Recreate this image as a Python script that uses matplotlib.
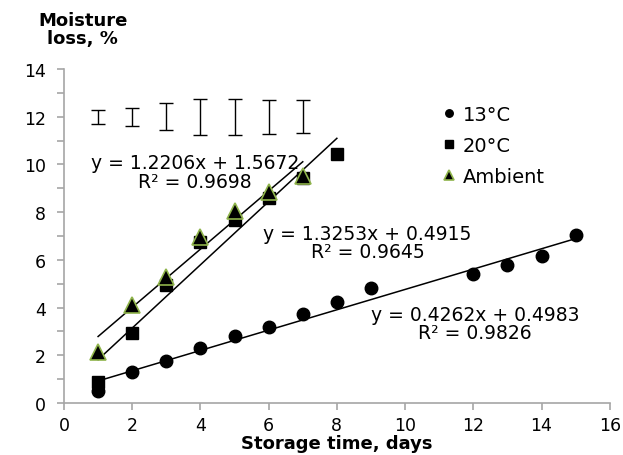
import numpy as np
import matplotlib.pyplot as plt

plt.rcParams['font.family'] = ['DejaVu Sans']

# Data
days_13 = [1, 2, 3, 4, 5, 6, 7, 8, 9, 12, 13, 14, 15]
loss_13 = [0.5, 1.3, 1.75, 2.3, 2.8, 3.2, 3.75, 4.25, 4.8, 5.4, 5.8, 6.15, 7.05]

days_20 = [1, 2, 3, 4, 5, 6, 7, 8]
loss_20 = [0.9, 2.95, 4.95, 6.75, 7.65, 8.6, 9.45, 10.45]

days_amb = [1, 2, 3, 4, 5, 6, 7]
loss_amb = [2.15, 4.1, 5.3, 6.95, 8.05, 8.85, 9.5]

# error bars drawn at the top
err_days = [1, 2, 3, 4, 5, 6, 7]
err_center = [12, 12, 12, 12, 12, 12, 12]
err_size = [0.3, 0.37, 0.56, 0.75, 0.75, 0.71, 0.69]

# trend lines (slope, intercept, r2, x range)
fits = {
    '13': (0.4262, 0.4983, 0.9826, (1, 15)),
    '20': (1.3253, 0.4915, 0.9645, (1, 8)),
    'amb': (1.2206, 1.5672, 0.9698, (1, 7)),
}

fig = plt.figure(figsize=(6.23, 4.56), dpi=100)
ax = fig.add_axes([0.1027, 0.114, 0.876, 0.7325])

green = '#8FB44B'
ax.plot(days_13, loss_13, 'o', color='black', markersize=9, zorder=3, label='13°C')
ax.plot(days_20, loss_20, 's', color='black', markersize=9, zorder=3, label='20°C')
ax.plot(days_amb, loss_amb, '^', color='black', markeredgecolor=green,
        markeredgewidth=1.2, markersize=12, zorder=4, label='Ambient')

for key in fits:
    m, b, r2, (x0, x1) = fits[key]
    xs = np.array([x0, x1])
    ax.plot(xs, m * xs + b, color='black', lw=1.1, zorder=2)

ax.errorbar(err_days, err_center, yerr=err_size, fmt='none', ecolor='black',
            elinewidth=1, capsize=5, capthick=1)

# trend line labels
lbl = dict(fontsize=13.5, ha='center', va='center', linespacing=0.95)
ax.text(3.84, 9.68, 'y = 1.2206x + 1.5672\nR² = 0.9698', **lbl)
ax.text(8.9, 6.73, 'y = 1.3253x + 0.4915\nR² = 0.9645', **lbl)
ax.text(12.05, 3.34, 'y = 0.4262x + 0.4983\nR² = 0.9826', **lbl)

ax.set_xlim(0, 16)
ax.set_ylim(0, 14)
ax.set_xticks(range(0, 17, 2))
ax.set_yticks(range(0, 15, 2))
ax.set_yticks(range(1, 14, 2), minor=True)

for s in ['top', 'right']:
    ax.spines[s].set_visible(False)
for s in ['left', 'bottom']:
    ax.spines[s].set_color('#A6A6A6')
    ax.spines[s].set_linewidth(1.2)
ax.tick_params(axis='both', which='both', color='#A6A6A6', width=1.2,
               labelsize=12.5, length=5)
ax.tick_params(axis='y', which='major', pad=8)
ax.tick_params(axis='x', which='major', pad=4)

ax.set_xlabel('Storage time, days', fontsize=13, fontweight='bold', labelpad=0)
fig.text(0.133, 0.934, 'Moisture\nloss, %', fontsize=13, fontweight='bold',
         ha='center', va='center', linespacing=0.95)

ax.legend(loc='upper left', bbox_to_anchor=(0.695, 0.892), frameon=False,
          fontsize=14, markerscale=0.6, handlelength=0.6, handletextpad=0.4,
          labelspacing=0.62, borderpad=0, borderaxespad=0)

fig.savefig('out.png', dpi=100)
